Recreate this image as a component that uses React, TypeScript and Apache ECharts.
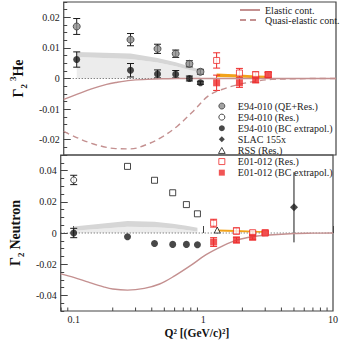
import React, { useEffect, useRef } from 'react';
import * as echarts from 'echarts';

const SERIF = "'Liberation Serif', 'Times New Roman', 'DejaVu Serif', serif";

// ---------- data ----------
const q2E94 = [0.1, 0.26, 0.42, 0.58, 0.74, 0.9];
const q2E01 = [1.2, 1.8, 2.4, 3.0];

// 3He panel
const he3QERes = [0.017, 0.0127, 0.0097, 0.0081, 0.0048, 0.0022];
const he3QEResErr = [0.0026, 0.002, 0.0015, 0.0012, 0.001, 0.0008];
const he3BC = [0.0062, 0.0027, 0.0015, 0.0014, 0.0, -0.0014];
const he3BCErr = [0.0025, 0.0022, 0.0013, 0.0012, 0.0008, 0.0005];
const he3E01Res = [0.0059, 0.0018, 0.0012, 0.0013];
const he3E01ResErr = [0.0025, 0.0015, 0.001, 0.0008];
const he3E01BC = [-0.0014, -0.0014, -0.0004, 0.0012];
const he3E01BCErr = [0.0025, 0.0015, 0.001, 0.0008];
const he3BandLow = [0.007, 0.0064, 0.0052, 0.004, 0.0028, 0.002];
const he3BandHigh = [0.0087, 0.0082, 0.0067, 0.0053, 0.004, 0.0029];
const he3OrQ2 = [1.2, 1.8, 2.4, 3.0];
const he3OrLow = [0.0005, 0.0003, 0.0001, 0.0002];
const he3OrHigh = [0.0016, 0.0013, 0.001, 0.0009];

// Neutron panel
const q2NResCircle = [0.1];
const nResCircle = [0.034];
const nResCircleErr = [0.003];
const q2NResSquare = [0.26, 0.42, 0.58, 0.74, 0.9];
const nResSquare = [0.0427, 0.0338, 0.0258, 0.0182, 0.0123];
const nBC = [0.0, -0.0024, -0.0067, -0.0073, -0.0073, -0.0075];
const nBCErr = [0.003, 0, 0, 0, 0, 0];
const nE01Res = [0.0063, 0.0013, 0.0002, 0.0];
const nE01ResErr = [0.0025, 0.002, 0.001, 0.0008];
const nE01BC = [-0.0058, -0.0045, -0.0028, 0.0002];
const nE01BCErr = [0.0028, 0.0018, 0.0012, 0.001];
const q2RSS = [1.28];
const nRSS = [0.0019];
const q2SLAC = [5.0];
const nSLAC = [0.0165];
const nSLACErr = [0.0225];
const nBandLow = [0.0015, 0.004, 0.0037, 0.003, 0.002, 0.001];
const nBandHigh = [0.0042, 0.0077, 0.0072, 0.006, 0.0047, 0.0033];
const nOrQ2 = [1.28, 1.8, 2.4, 3.0];
const nOrLow = [0.0009, 0.0007, 0.0004, 0.0002];
const nOrHigh = [0.0023, 0.0019, 0.0015, 0.0011];

// model curves
const curveQ2 = [0.0794, 0.1, 0.13, 0.17, 0.2, 0.26, 0.35, 0.46, 0.6, 0.8, 1.05, 1.4, 1.8, 2.4, 3.2, 5, 7, 10];
const he3Elastic = [-0.0068, -0.0052, -0.0034, -0.0019, -0.0013, -0.0006, -0.0003, -0.0001, 0, 0, 0, 0, 0, 0, 0, 0, 0, 0];
const he3Quasi = [-0.0173, -0.0193, -0.0212, -0.0225, -0.0229, -0.023, -0.0215, -0.019, -0.0155, -0.0105, -0.0055, -0.0032, -0.0019, -0.0009, -0.0003, -0.0001, 0, 0];
const nElastic = [-0.0262, -0.0284, -0.0315, -0.0345, -0.0359, -0.0366, -0.0355, -0.0327, -0.0275, -0.0208, -0.0139, -0.0084, -0.0046, -0.0024, -0.0013, -0.0003, -0.0001, 0];

const zeroLineQ2 = [0.0794, 10];
const xMinorTicks = [0.08, 0.09, 0.2, 0.3, 0.4, 0.5, 0.6, 0.7, 0.8, 0.9, 2, 3, 4, 5, 6, 7, 8, 9];
const he3TickLabels = [-0.02, -0.01, 0, 0.01, 0.02];
const nTickLabels = [-0.04, -0.02, 0, 0.02, 0.04];

const legendCurves = ['Elastic cont.', 'Quasi-elastic cont.'];
const legendData = [
  'E94-010 (QE+Res.)',
  'E94-010 (Res.)',
  'E94-010 (BC extrapol.)',
  'SLAC 155x',
  'RSS (Res.)',
  'E01-012 (Res.)',
  'E01-012 (BC extrapol.)',
];

// ---------- helpers ----------
const pts = (xs: number[], ys: number[]) => xs.map((x, i) => [x, ys[i]]);
const errPts = (xs: number[], ys: number[], es: number[]) => xs.map((x, i) => [x, ys[i], es[i]]);

const RED = '#ee2a2a';
const DARK = '#1a1a1a';
const CURVE = '#c49090';
const ORANGE = '#f2a31b';

const SQUARE = 'path://M0,0H10V10H0Z';
const DIAMOND = 'path://M5,0L10,5L5,10L0,5Z';
const TRIANGLE = 'path://M5,0L10,9L0,9Z';

function errSeries(grid: number, data: number[][], color: string, caps = true) {
  return {
    type: 'custom',
    xAxisIndex: grid,
    yAxisIndex: grid * 2,
    z: 3,
    silent: true,
    encode: { x: 0, y: 1 },
    data,
    renderItem: (params: any, api: any) => {
      const x = api.value(0);
      const y = api.value(1);
      const e = api.value(2);
      if (!e) return { type: 'group', children: [] };
      const t = api.coord([x, y + e]);
      const b = api.coord([x, y - e]);
      const w = 3.5;
      const st = { stroke: color, lineWidth: 1 };
      const children: any[] = [
        { type: 'line', shape: { x1: t[0], y1: t[1], x2: b[0], y2: b[1] }, style: st },
      ];
      if (caps) {
        children.push({ type: 'line', shape: { x1: t[0] - w, y1: t[1], x2: t[0] + w, y2: t[1] }, style: st });
        children.push({ type: 'line', shape: { x1: b[0] - w, y1: b[1], x2: b[0] + w, y2: b[1] }, style: st });
      }
      return { type: 'group', children };
    },
  };
}

function scatter(grid: number, name: string, data: number[][], symbol: string, size: number, itemStyle: any) {
  return {
    type: 'scatter',
    name,
    xAxisIndex: grid,
    yAxisIndex: grid * 2,
    data,
    symbol,
    symbolSize: size,
    itemStyle,
    z: 5,
    silent: true,
  };
}

// shaded band drawn as polygons through the axes' own scales
function band(grid: number, xs: number[], lo: number[], hi: number[], loColor: string | null, hiColor: string) {
  return {
    type: 'custom',
    xAxisIndex: grid,
    yAxisIndex: grid * 2,
    silent: true,
    z: 1,
    data: [[xs[0], lo[0]]],
    encode: { x: 0, y: 1 },
    renderItem: (params: any, api: any) => {
      const upper = xs.map((x, i) => api.coord([x, hi[i]]));
      const lower = xs.map((x, i) => api.coord([x, lo[i]]));
      const zero = xs.map((x) => api.coord([x, 0]));
      const children: any[] = [];
      if (loColor) {
        children.push({
          type: 'polygon',
          shape: { points: lower.concat(zero.slice().reverse()) },
          style: { fill: loColor },
        });
      }
      children.push({
        type: 'polygon',
        shape: { points: upper.concat(lower.slice().reverse()) },
        style: { fill: hiColor },
      });
      return { type: 'group', children };
    },
  };
}

function curve(grid: number, name: string, ys: number[], dashed: boolean) {
  return {
    type: 'line',
    name,
    xAxisIndex: grid,
    yAxisIndex: grid * 2,
    data: pts(curveQ2, ys),
    symbol: 'none',
    smooth: 0.35,
    lineStyle: { color: CURVE, width: 1.4, type: dashed ? [6, 4] : 'solid' },
    itemStyle: { color: CURVE },
    z: 4,
    silent: true,
  };
}

function zeroLine(grid: number) {
  return {
    type: 'line',
    name: 'zero' + grid,
    xAxisIndex: grid,
    yAxisIndex: grid * 2,
    data: pts(zeroLineQ2, [0, 0]),
    symbol: 'none',
    lineStyle: { color: '#555', width: 1, type: [1, 2] },
    z: 2,
    silent: true,
  };
}

const axisFont = { fontFamily: SERIF, fontSize: 10, color: '#222' };

function yAxes(grid: number, min: number, max: number, minorInterval: number, labels: number[], name: string) {
  return [
    {
      type: 'value',
      gridIndex: grid,
      position: 'left',
      min,
      max,
      name,
      nameLocation: 'middle',
      nameRotate: 90,
      nameGap: 28,
      nameTextStyle: {
        fontFamily: SERIF,
        color: '#111',
        rich: {
          g: { fontFamily: SERIF, fontSize: 14, fontWeight: 'bold', color: '#111', lineHeight: 20 },
          sub: { fontFamily: SERIF, fontSize: 9, fontWeight: 'bold', color: '#111', verticalAlign: 'bottom', lineHeight: 20 },
          sup: { fontFamily: SERIF, fontSize: 9, fontWeight: 'bold', color: '#111', verticalAlign: 'top', lineHeight: 20 },
        },
      },
      axisLine: { show: false },
      axisTick: { show: true, inside: true, length: 7, customValues: labels, lineStyle: { color: '#444' } },
      axisLabel: { show: true, margin: 4, customValues: labels, ...axisFont },
      splitLine: { show: false },
    },
    {
      type: 'value',
      gridIndex: grid,
      position: 'left',
      min,
      max,
      interval: minorInterval,
      axisLine: { show: false },
      axisTick: { show: true, inside: true, length: 3.5, lineStyle: { color: '#444' } },
      axisLabel: { show: false },
      splitLine: { show: false },
    },
  ];
}

const thin = { borderWidth: 1 };

const option: any = {
  animation: false,
  backgroundColor: '#fff',
  textStyle: { fontFamily: SERIF },
  grid: [
    { left: 44, top: 2, width: 292, height: 153, show: true, borderColor: '#444', borderWidth: 1.2, backgroundColor: 'transparent' },
    { left: 44, top: 155, width: 292, height: 156, show: true, borderColor: '#444', borderWidth: 1.2, backgroundColor: 'transparent' },
  ],
  xAxis: [
    {
      type: 'log',
      gridIndex: 0,
      min: 0.0794,
      max: 10,
      axisLine: { show: false },
      axisTick: { show: false },
      axisLabel: { show: false },
      splitLine: { show: false },
    },
    {
      type: 'log',
      gridIndex: 1,
      min: 0.0794,
      max: 10,
      name: 'Q² [(GeV/c)²]',
      nameLocation: 'middle',
      nameGap: 16,
      nameTextStyle: { fontFamily: SERIF, fontSize: 11.5, fontWeight: 'bold', color: '#111' },
      axisLine: { show: false },
      axisTick: { show: true, inside: true, length: 7, lineStyle: { color: '#444' } },
      axisLabel: { show: true, margin: 3, showMinLabel: false, ...axisFont },
      splitLine: { show: false },
    },
  ],
  yAxis: [
    ...yAxes(0, -0.025, 0.025, 0.0025, he3TickLabels, '{g|Γ}{sub|2} {sup|3}{g|He}'),
    ...yAxes(1, -0.05, 0.05, 0.005, nTickLabels, '{g|Γ}{sub|2} {g|Neutron}'),
  ],
  legend: [
    {
      data: legendCurves,
      left: 239,
      top: 5,
      orient: 'vertical',
      itemWidth: 20,
      itemHeight: 8,
      itemGap: 0,
      padding: 0,
      selectedMode: false,
      itemStyle: { opacity: 0 },
      textStyle: { fontFamily: SERIF, fontSize: 10, color: '#222', lineHeight: 10 },
    },
    {
      data: [
        { name: legendData[0], icon: 'circle', itemStyle: thin },
        { name: legendData[1], icon: 'circle', itemStyle: thin },
        { name: legendData[2], icon: 'circle' },
        { name: legendData[3], icon: DIAMOND },
        { name: legendData[4], icon: TRIANGLE, itemStyle: thin },
        { name: legendData[5], icon: SQUARE, itemStyle: thin },
        { name: legendData[6], icon: SQUARE },
      ],
      left: 218,
      top: 100.5,
      orient: 'vertical',
      itemWidth: 22,
      itemHeight: 6,
      symbolKeepAspect: true,
      itemGap: 0,
      padding: 0,
      selectedMode: false,
      textStyle: { fontFamily: SERIF, fontSize: 10, color: '#222', lineHeight: 11.1 },
    },
  ],
  series: [
    // ---- top panel: 3He ----
    band(0, q2E94, he3BandLow, he3BandHigh, '#ececec', '#d6d6d6'),
    band(0, he3OrQ2, he3OrLow, he3OrHigh, null, ORANGE),
    zeroLine(0),
    curve(0, 'Elastic cont.', he3Elastic, false),
    curve(0, 'Quasi-elastic cont.', he3Quasi, true),
    errSeries(0, errPts(q2E94, he3QERes, he3QEResErr), DARK),
    errSeries(0, errPts(q2E94, he3BC, he3BCErr), DARK),
    errSeries(0, errPts(q2E01, he3E01Res, he3E01ResErr), RED),
    errSeries(0, errPts(q2E01, he3E01BC, he3E01BCErr), RED),
    scatter(0, 'E94-010 (QE+Res.)', pts(q2E94, he3QERes), 'circle', 7, { color: '#8c8c8c', borderColor: '#3a3a3a', borderWidth: 1 }),
    scatter(0, 'E94-010 (BC extrapol.)', pts(q2E94, he3BC), 'circle', 7, { color: DARK }),
    scatter(0, 'E01-012 (Res.)', pts(q2E01, he3E01Res), 'rect', 6, { color: '#fff', borderColor: RED, borderWidth: 1 }),
    scatter(0, 'E01-012 (BC extrapol.)', pts(q2E01, he3E01BC), 'rect', 7, { color: RED }),

    // ---- bottom panel: neutron ----
    band(1, q2E94, nBandLow, nBandHigh, '#ececec', '#d6d6d6'),
    band(1, nOrQ2, nOrLow, nOrHigh, null, ORANGE),
    zeroLine(1),
    curve(1, 'Elastic cont.', nElastic, false),
    errSeries(1, errPts(q2NResCircle, nResCircle, nResCircleErr), DARK),
    errSeries(1, errPts(q2E94, nBC, nBCErr), DARK),
    errSeries(1, errPts(q2E01, nE01Res, nE01ResErr), RED),
    errSeries(1, errPts(q2E01, nE01BC, nE01BCErr), RED),
    errSeries(1, errPts(q2SLAC, nSLAC, nSLACErr), DARK, false),
    scatter(1, 'E94-010 (Res.)', pts(q2NResCircle, nResCircle), 'circle', 6, { color: '#fff', borderColor: DARK, borderWidth: 1 }),
    scatter(1, 'E94-010 (Res.) squares', pts(q2NResSquare, nResSquare), 'rect', 6, { color: '#fff', borderColor: DARK, borderWidth: 1 }),
    scatter(1, 'E94-010 (BC extrapol.)', pts(q2E94, nBC), 'circle', 7, { color: DARK }),
    scatter(1, 'SLAC 155x', pts(q2SLAC, nSLAC), 'diamond', 8, { color: DARK }),
    scatter(1, 'RSS (Res.)', pts(q2RSS, nRSS), 'triangle', 6, { color: '#fff', borderColor: DARK, borderWidth: 1 }),
    scatter(1, 'E01-012 (Res.)', pts(q2E01, nE01Res), 'rect', 6, { color: '#fff', borderColor: RED, borderWidth: 1 }),
    scatter(1, 'E01-012 (BC extrapol.)', pts(q2E01, nE01BC), 'rect', 7, { color: RED }),

    // minor ticks on the log axis
    {
      type: 'custom',
      xAxisIndex: 1,
      yAxisIndex: 2,
      silent: true,
      z: 6,
      data: xMinorTicks.map((v) => [v, -0.05]),
      encode: { x: 0, y: 1 },
      renderItem: (params: any, api: any) => {
        const p = api.coord([api.value(0), api.value(1)]);
        return {
          type: 'line',
          shape: { x1: p[0], y1: p[1], x2: p[0], y2: p[1] - 3.5 },
          style: { stroke: '#444', lineWidth: 1 },
        };
      },
    },
  ],
};

export default function App() {
  const ref = useRef<HTMLDivElement>(null);
  useEffect(() => {
    const chart = echarts.init(ref.current as HTMLDivElement, null, { renderer: 'svg' });
    chart.setOption(option);
    return () => chart.dispose();
  }, []);
  return <div ref={ref} style={{ position: 'fixed', left: 0, top: 0, width: 341, height: 341 }} />;
}
